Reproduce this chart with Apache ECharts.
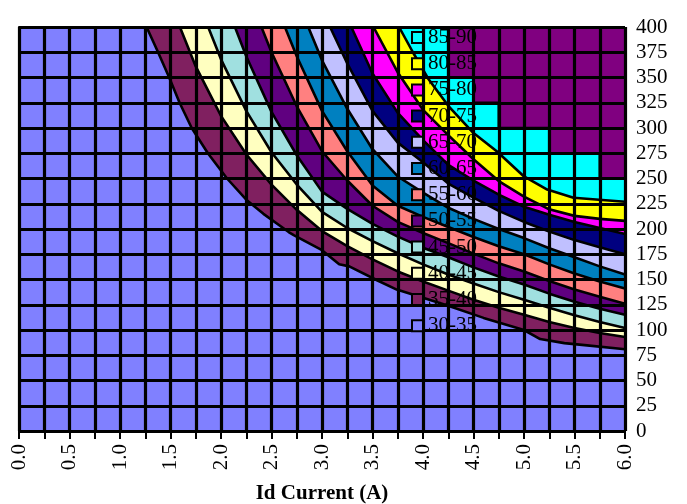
<!DOCTYPE html>
<html>
<head>
<meta charset="utf-8">
<script src="https://cdn.jsdelivr.net/npm/echarts@6/dist/echarts.min.js"></script>
<style>
  html, body { margin: 0; padding: 0; background: #ffffff; }
  #chart { width: 687px; height: 504px; }
</style>
</head>
<body>
<div id="chart"></div>
<script>
// Efficiency bands, lowest first
const bandNames = ['30-35', '35-40', '40-45', '45-50', '50-55', '55-60', '60-65',
                   '65-70', '70-75', '75-80', '80-85', '85-90', '90-95'];
const bandColors = ['#8080FF', '#802060', '#FFFFC0', '#A0E0E0', '#600080', '#FF8080', '#0080C0',
                    '#C0C0FF', '#000080', '#FF00FF', '#FFFF00', '#00FFFF', '#800080'];

// Iso-lines [Id current (A), y] forming the lower edge of each band from 35-40 upward
const iso35 = [[1.263, 400], [1.377, 375], [1.487, 350], [1.59, 325], [1.71, 300], [1.87, 275], [2.06, 250],
               [2.25, 229], [2.42, 215], [2.67, 197], [2.72, 194], [3.0, 179], [3.17, 165], [3.27, 163],
               [3.55, 149], [3.74, 140], [4.22, 125], [4.6, 112], [5.0, 100], [5.16, 91], [5.4, 87],
               [5.6, 85], [6.0, 81]];
const iso40 = [[1.593, 400], [1.75, 361], [2.0, 312], [2.25, 274], [2.5, 244], [2.75, 219], [3.0, 198],
               [3.25, 183], [3.5, 170], [3.75, 158], [4.0, 148], [4.25, 139], [4.5, 130], [4.75, 122],
               [5.0, 115], [5.25, 108], [5.5, 102], [5.75, 97], [6.0, 93]];
const iso45 = [[1.873, 400], [2.0, 368], [2.25, 317], [2.5, 276], [2.75, 244], [3.0, 217], [3.25, 201],
               [3.5, 188], [3.75, 176], [4.0, 165], [4.25, 155], [4.5, 146], [4.75, 137.5], [5.0, 130],
               [5.25, 122], [5.5, 114.5], [5.75, 108], [6.0, 102]];
const iso50 = [[2.138, 400], [2.25, 371], [2.5, 316], [2.75, 273], [3.0, 237], [3.25, 220], [3.5, 205],
               [3.75, 192.5], [4.0, 181.5], [4.25, 172], [4.5, 162], [4.75, 153], [5.0, 145],
               [5.25, 136], [5.5, 128], [5.75, 121], [6.0, 115]];
const iso55 = [[2.40, 400], [2.5, 375], [2.75, 321.5], [3.0, 277], [3.25, 248], [3.5, 223], [3.75, 207],
               [4.0, 196], [4.25, 186], [4.5, 175.6], [4.75, 166], [5.0, 158], [5.25, 148.6], [5.5, 140],
               [5.75, 133], [6.0, 126]];
const iso60 = [[2.633, 400], [2.75, 371], [3.0, 317], [3.25, 277], [3.5, 243], [3.75, 223], [4.0, 212],
               [4.25, 202], [4.5, 192], [4.75, 183], [5.0, 175], [5.25, 165], [5.5, 156], [5.75, 148],
               [6.0, 141]];
const iso65 = [[2.864, 400], [3.0, 367], [3.25, 319], [3.5, 279], [3.75, 252], [4.0, 236], [4.25, 221],
               [4.5, 210], [4.75, 200], [5.0, 191], [5.25, 181], [5.5, 172], [5.75, 163], [6.0, 155]];
const iso70 = [[3.08, 400], [3.25, 364], [3.5, 317], [3.75, 285.5], [4.0, 266], [4.25, 245], [4.5, 231],
               [4.75, 218], [5.0, 207], [5.25, 197.6], [5.5, 189], [5.75, 182], [6.0, 175]];
const iso75 = [[3.29, 400], [3.5, 354], [3.75, 315], [4.0, 288], [4.25, 263.5], [4.5, 248], [4.75, 234],
               [5.0, 222], [5.25, 214], [5.5, 207], [5.75, 201], [6.0, 195]];
const iso80 = [[3.51, 400], [3.75, 355], [4.0, 318], [4.25, 293], [4.5, 269], [4.75, 247.5], [5.0, 232],
               [5.25, 219.5], [5.5, 213], [5.75, 210], [6.0, 208]];
const iso85 = [[3.763, 400], [3.9, 375], [4.05, 349], [4.25, 322], [4.5, 295], [4.73, 277], [5.0, 252],
               [5.23, 239], [5.49, 231], [6.0, 227]];
// Edge of the 90-95 region follows whole grid cells
const iso90 = [[4.25, 400], [4.25, 350], [4.5, 350], [4.5, 325], [4.75, 325], [4.75, 300], [5.25, 300],
               [5.25, 275], [5.75, 275], [5.75, 250], [6.0, 250]];

const isoLines = [iso35, iso40, iso45, iso50, iso55, iso60, iso65, iso70, iso75, iso80, iso85, iso90];

// Axis ranges and tick steps
const xRange = [0, 6];
const xStep = 0.25;
const xLabelStep = 0.5;
const yRange = [0, 400];
const yStep = 25;

const serif = 'Liberation Serif';

// The lowest band is the plot background; it only needs a legend entry
const series = [{ name: bandNames[0], type: 'line', data: [], itemStyle: { color: bandColors[0] } }];
isoLines.forEach((pts, i) => {
  series.push({
    name: bandNames[i + 1],
    type: 'line',
    data: pts,
    symbol: 'none',
    showSymbol: false,
    smooth: false,
    clip: true,
    silent: true,
    lineStyle: { color: '#000000', width: 2.6 },
    areaStyle: { color: bandColors[i + 1], opacity: 1, origin: 'end' },
    z: 2
  });
});

// Legend lists 85-90 down to 30-35
const legendData = bandNames.slice(0, 12).reverse().map((name) => ({
  name: name,
  itemStyle: { color: bandColors[bandNames.indexOf(name)], borderColor: '#000000', borderWidth: 2 }
}));

const chart = echarts.init(document.getElementById('chart'), null, { renderer: 'canvas' });
chart.setOption({
  animation: false,
  backgroundColor: '#ffffff',
  grid: {
    left: 19, right: 62, top: 27, bottom: 73,
    containLabel: false,
    outerBoundsMode: 'none',
    show: true, backgroundColor: bandColors[0], borderWidth: 0
  },
  legend: {
    data: legendData,
    orient: 'vertical',
    left: 411,
    top: 27,
    padding: 0,
    itemGap: 5.2,
    itemWidth: 11,
    itemHeight: 11,
    icon: 'rect',
    selectedMode: false,
    z: 10,
    textStyle: { fontFamily: serif, fontSize: 21, color: '#000000', lineHeight: 21 }
  },
  xAxis: {
    type: 'value',
    min: xRange[0], max: xRange[1], interval: xStep,
    z: 5,
    name: 'Id Current (A)',
    nameLocation: 'middle',
    nameGap: 52,
    nameMoveOverlap: false,
    nameTextStyle: { fontFamily: serif, fontSize: 21, fontWeight: 'bold', color: '#000000' },
    axisLine: { show: true, lineStyle: { color: '#000000', width: 2 } },
    axisTick: { show: true, length: 8, lineStyle: { color: '#000000', width: 2 } },
    axisLabel: {
      rotate: 90, margin: 13,
      fontFamily: serif, fontSize: 21, color: '#000000',
      formatter: (v) => (Math.abs(v / xLabelStep - Math.round(v / xLabelStep)) < 1e-6 ? v.toFixed(1) : '')
    },
    splitLine: { show: true, lineStyle: { color: '#000000', width: 3.2 } }
  },
  yAxis: {
    type: 'value',
    position: 'right',
    min: yRange[0], max: yRange[1], interval: yStep,
    z: 5,
    axisLine: { show: true, lineStyle: { color: '#000000', width: 2 } },
    axisTick: { show: true, length: 8, lineStyle: { color: '#000000', width: 2 } },
    axisLabel: { margin: 11, fontFamily: serif, fontSize: 21, color: '#000000' },
    splitLine: { show: true, lineStyle: { color: '#000000', width: 3.2 } }
  },
  series: series
});
</script>
</body>
</html>
